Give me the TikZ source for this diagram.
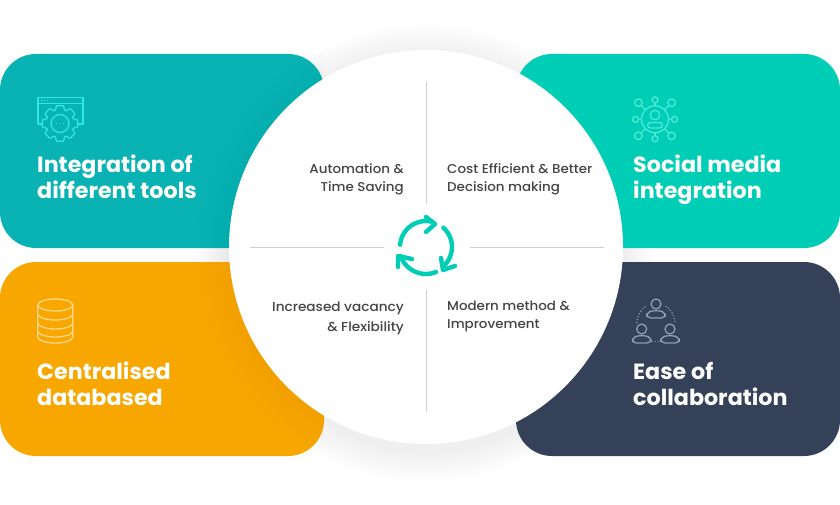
\documentclass[tikz,border=0pt]{standalone}
\usepackage{fontspec}
\setmainfont{Poppins}
\newfontfamily\headfont[FakeStretch=1.01]{Poppins Bold}
\newfontfamily\bodyfont[FakeStretch=1.05]{Poppins Medium}
\definecolor{cTeal}{HTML}{09B2B3}
\definecolor{cGreen}{HTML}{00CDB5}
\definecolor{cOrange}{HTML}{F8A600}
\definecolor{cNavy}{HTML}{344159}
\definecolor{cRule}{HTML}{CFCFCF}
\definecolor{cBody}{HTML}{444444}
\definecolor{cCyan}{HTML}{2EE8E2}
\definecolor{cMint}{HTML}{4CEBD8}
\definecolor{cCream}{HTML}{FFD788}
\definecolor{cSlate}{HTML}{8E9BB6}
\tikzset{
  x=1pt,y=-1pt,
  card/.style={rounded corners=36pt,draw=none},
  head/.style={font=\headfont\fontsize{22}{26}\selectfont,text=white,align=left,anchor=north west,inner sep=0pt},
  bodyL/.style={font=\bodyfont\fontsize{12.8}{18}\selectfont,text=cBody,align=left,anchor=west,inner sep=0pt},
  bodyR/.style={font=\bodyfont\fontsize{12.8}{18}\selectfont,text=cBody,align=right,anchor=east,inner sep=0pt},
  rule/.style={draw=cRule,line width=1pt},
  cyc/.style={draw=cGreen,line width=4.4pt,line cap=round,line join=round},
  ico/.style={line width=1.3pt,line join=round,line cap=round},
}
\newcommand{\personicon}[2]{%
  \draw[ico,draw=cSlate] (#1,#2) circle (5);
  \draw[ico,draw=cSlate,rounded corners=4pt] (#1-9.3,#2+14) -- (#1-9.3,#2+8.5) -- (#1-3,#2+6.5) -- (#1+3,#2+6.5) -- (#1+9.3,#2+8.5) -- (#1+9.3,#2+14) -- cycle;
}
\begin{document}
\begin{tikzpicture}
\useasboundingbox (0,0) rectangle (840,505);
\fill[white] (0,0) rectangle (840,505);
% soft shadow of the disc, on the white ground
\foreach \r in {200,202,...,230}{
  \fill[black,opacity=0.003] (426,253) circle (\r);
}
% cards
\fill[cTeal,card] (0,54) rectangle (324,248);
\fill[cGreen,card] (516,54) rectangle (840,248);
\fill[cOrange,card] (0,262) rectangle (324,456);
\fill[cNavy,card] (516,262) rectangle (840,456);
% faint shade on the two left cards
\begin{scope}
  \clip (0,54) rectangle (324,456);
  \foreach \r in {200,206,...,230}{
    \fill[black,opacity=0.005] (426,250) circle (\r);
  }
\end{scope}
% disc
\fill[white] (426,247) circle (197);
% rules
\coordinate (ruleTop) at (426.5,82);
\coordinate (ruleTopEnd) at (426.5,204);
\coordinate (ruleBot) at (426.5,290);
\coordinate (ruleBotEnd) at (426.5,412);
\coordinate (ruleL) at (250,247);
\coordinate (ruleLEnd) at (384,247);
\coordinate (ruleR) at (470,247);
\coordinate (ruleREnd) at (604,247);
\draw[rule] (ruleTop) -- (ruleTopEnd);
\draw[rule] (ruleBot) -- (ruleBotEnd);
\draw[rule] (ruleL) -- (ruleLEnd);
\draw[rule] (ruleR) -- (ruleREnd);
% card labels
\node[head] (h1) at (37,155) {Integration of\\different tools};
\node[head] (h2) at (633,155) {Social media\\integration};
\node[head] (h3) at (37,362) {Centralised\\databased};
\node[head] (h4) at (633,362) {Ease of\\collaboration};
% disc labels
\node[bodyR] (t1) at (404,179.5) {Automation \&\\Time Saving};
\node[bodyL] (t2) at (447,179.5) {Cost Efficient \& Better\\Decision making};
\node[bodyR,font=\bodyfont\fontsize{13}{20}\selectfont] (t3) at (404,318) {Increased vacancy\\\& Flexibility};
\node[bodyL] (t4) at (447,316.5) {Modern method \&\\Improvement};
% cycle icon
\draw[cyc] (426,247) ++(185:26) arc (185:282:26);
\draw[cyc] (426,217) -- (435,224) -- (426,232);
\draw[cyc] (426,247) ++(312:26) arc (312:410:26);
\draw[cyc] (441,258) -- (443,270) -- (455,266);
\draw[cyc] (426,247) ++(68:27) arc (68:160:27);
\draw[cyc] (412,259) -- (398,256) -- (398,267);
% gear icon
\begin{scope}[ico,draw=cCyan]
  \draw (44,124) -- (38,124) -- (38,97.5) -- (83,97.5) -- (83,124) -- (76,124);
  \draw (38,103.5) -- (83,103.5);
  \foreach \px in {41.5,44.5,47.5}{\fill[cCyan] (\px,100.5) circle (0.8);}
  \begin{scope}[shift={(60,123.5)}]
    \draw[fill=cTeal] (-20:14)
      \foreach \a in {0,45,...,315}{
        -- (\a-20:14) -- (\a-11:18) -- (\a+11:18) -- (\a+20:14)
      } -- cycle;
    \draw (0,0) circle (9);
    \foreach \px in {-3.5,0,3.5}{\fill[cCyan] (\px,0) circle (0.7);}
  \end{scope}
\end{scope}
% network icon
\begin{scope}[ico,draw=cMint]
  \draw (655,119.3) circle (13.5);
  \draw (655,115) circle (4.8);
  \draw[rounded corners=3pt] (647.5,128) -- (647.5,122.5) -- (662.5,122.5) -- (662.5,128) -- cycle;
  \foreach \a/\rr/\dd in {0/3/19.5,45/3.8/23.5,90/3/19.5,135/3.8/23.5,180/3/19.5,225/3.8/23.5,270/3/19.5,315/3.8/23.5}{
    \draw (655,119.3) ++(\a:13.5) -- ++(\a:{\dd-\rr-13.5});
    \draw (655,119.3) ++(\a:\dd) circle (\rr);
  }
\end{scope}
% database icon
\begin{scope}[ico,draw=cCream]
  \draw (55.3,305) ellipse (17.5 and 6);
  \draw (37.8,305) -- (37.8,337) arc (180:0:17.5 and 6) -- (72.8,305);
  \draw (37.8,314) arc (180:0:17.5 and 6);
  \draw (37.8,323) arc (180:0:17.5 and 6);
  \draw (37.8,331) arc (180:0:17.5 and 6);
\end{scope}
% team icon
\personicon{656}{304}
\personicon{641.7}{329}
\personicon{670}{329}
\draw[draw=cSlate,line width=1.2pt,dash pattern=on 1.2pt off 1.8pt] (636.7,323) .. controls (638,314) and (641,309) .. (647,305.5);
\draw[draw=cSlate,line width=1.2pt,dash pattern=on 1.2pt off 1.8pt] (675,322) .. controls (674,314) and (670,308) .. (664,305);
\draw[draw=cSlate,line width=1.2pt,dash pattern=on 1.2pt off 1.8pt] (652,341.7) -- (660,341.7);
\end{tikzpicture}
\end{document}
